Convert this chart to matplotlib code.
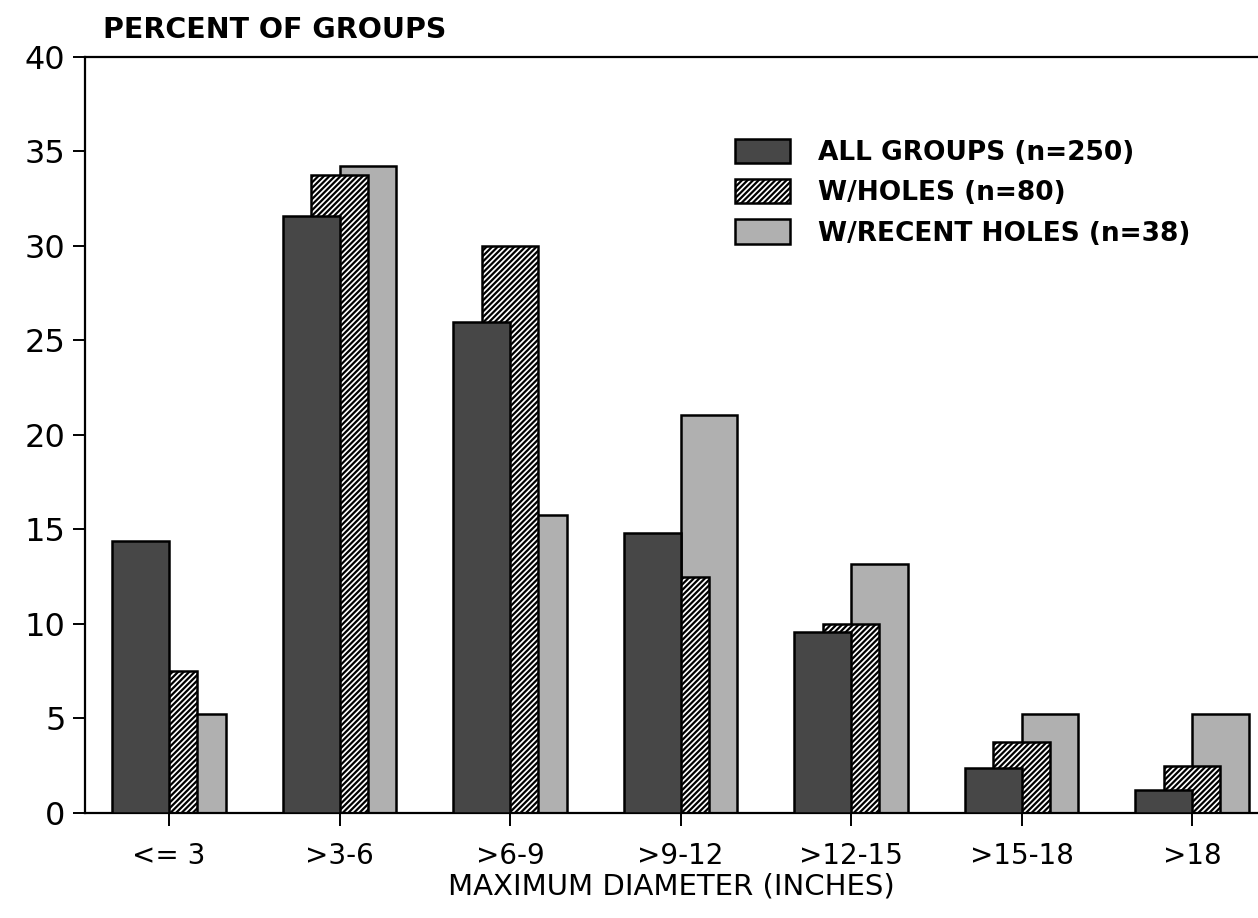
import numpy as np
import matplotlib
matplotlib.use("Agg")
import matplotlib.pyplot as plt

plt.rcParams['font.family'] = ['DejaVu Sans']
plt.rcParams['hatch.linewidth'] = 1.6

#dados
categorias = ["<= 3", ">3-6", ">6-9", ">9-12", ">12-15", ">15-18", ">18"]
todos_grupos = [14.4, 31.6, 26.0, 14.8, 9.6, 2.4, 1.2]
com_buracos = [7.5, 33.75, 30.0, 12.5, 10.0, 3.75, 2.5]
buracos_recentes = [5.26, 34.21, 15.79, 21.05, 13.16, 5.26, 5.26]

rotulos = ["ALL GROUPS (n=250)", "W/HOLES (n=80)", "W/RECENT HOLES (n=38)"]

x = np.arange(len(categorias))
largura = 0.333

fig = plt.figure(figsize=(12.58, 9.18), dpi=100)
ax = fig.add_axes([0.0676, 0.1144, 0.9324, 0.8236])

#barras sobrepostas: a primeira fica na frente
ax.bar(x - largura / 2, todos_grupos, largura, facecolor='#474747', edgecolor='black',
       linewidth=1.8, zorder=3, label=rotulos[0])
ax.bar(x, com_buracos, largura, facecolor='white', edgecolor='black', hatch='//////',
       linewidth=1.8, zorder=2, label=rotulos[1])
ax.bar(x + largura / 2, buracos_recentes, largura, facecolor='#b0b0b0', edgecolor='black',
       linewidth=1.8, zorder=1, label=rotulos[2])

ax.set_ylim(0, 40)
ax.set_xlim(-0.493, 6.387)
ax.set_yticks(range(0, 41, 5))
ax.set_xticks(x)
ax.set_xticklabels(categorias)

ax.spines['right'].set_visible(False)
for lado in ['left', 'top', 'bottom']:
    ax.spines[lado].set_linewidth(1.6)

ax.tick_params(axis='y', direction='out', length=9, width=1.4, labelsize=23, pad=5)
ax.tick_params(axis='x', direction='out', length=9, width=1.4, labelsize=20, pad=12)

ax.set_xlabel("MAXIMUM DIAMETER (INCHES)", fontsize=21, labelpad=2)
fig.text(103 / 1258, 1 - 30 / 918, "PERCENT OF GROUPS", fontsize=20.5, fontweight='bold',
         ha='left', va='center')

ax.legend(loc='upper left', bbox_to_anchor=(0.554, 0.892), frameon=False,
          handlelength=2.1, handleheight=1.05, handletextpad=1.05, labelspacing=0.5,
          borderaxespad=0, borderpad=0, prop={'weight': 'bold', 'size': 19})

plt.savefig("out.png", dpi=100)
